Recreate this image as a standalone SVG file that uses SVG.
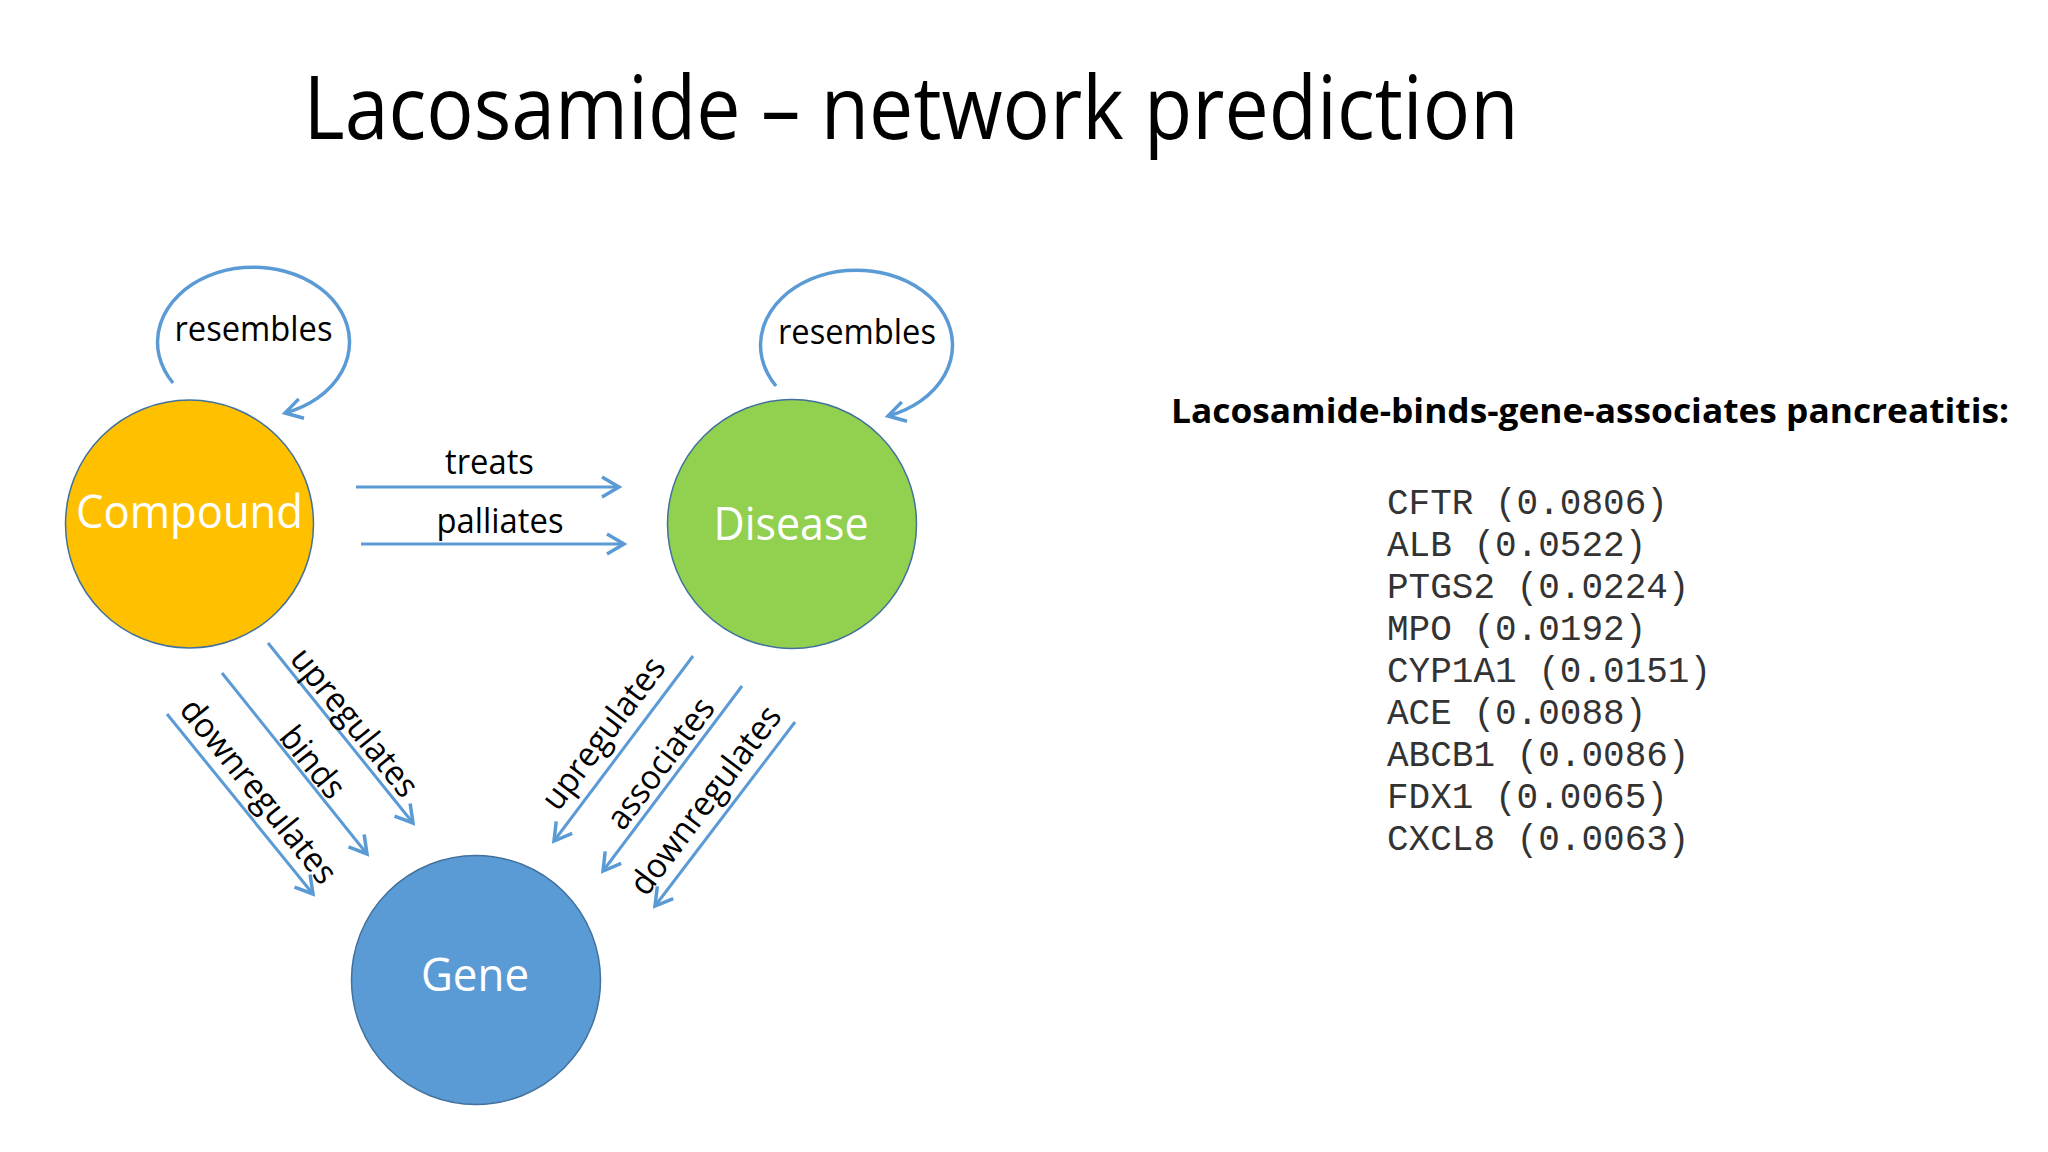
<svg xmlns="http://www.w3.org/2000/svg" width="2048" height="1152" viewBox="0 0 2048 1152">
<style>
.node{stroke:#41719C;stroke-width:1.5}
.nlabel{font-family:"Open Sans","Liberation Sans",sans-serif;font-size:45px;fill:#ffffff;text-anchor:middle}
.elabel{font-family:"Open Sans","Liberation Sans",sans-serif;font-size:34px;fill:#000000;text-anchor:middle}
.edge{fill:none;stroke:#5B9BD5;stroke-width:3;marker-end:url(#arr)}
.loop{fill:none;stroke:#5B9BD5;stroke-width:3.5;marker-end:url(#arr)}
.mono{font-family:"Liberation Mono","Courier New",monospace;font-size:36px;fill:#333333}
</style>
<defs>
<marker id="arr" markerUnits="userSpaceOnUse" markerWidth="40" markerHeight="40" viewBox="-25 -20 40 40" refX="0" refY="0" orient="auto">
<path d="M-17,-10 L0,0 L-17,10" fill="none" stroke="#5B9BD5" stroke-width="3.5"/>
</marker>
</defs>
<rect width="2048" height="1152" fill="#ffffff"/>
<text x="911" y="139" font-family="'Open Sans','Liberation Sans',sans-serif" font-size="88" font-weight="500" text-anchor="middle" textLength="1215" lengthAdjust="spacingAndGlyphs" fill="#000">Lacosamide – network prediction</text>

<g id="connectors">
<path class="loop" d="M173,383 A96,75 0 1,1 285,413"/>
<path class="loop" d="M776,386 A96,75 0 1,1 888,416"/>
<line class="edge" x1="356" y1="487" x2="619" y2="487"/>
<line class="edge" x1="361" y1="544" x2="624" y2="544"/>
<line class="edge" x1="268" y1="643" x2="413" y2="823"/>
<line class="edge" x1="222" y1="673" x2="367" y2="854"/>
<line class="edge" x1="167" y1="714" x2="313" y2="894"/>
<line class="edge" x1="693" y1="656" x2="554" y2="841"/>
<line class="edge" x1="742" y1="686" x2="603" y2="871"/>
<line class="edge" x1="795" y1="722" x2="655" y2="906"/>
<text class="elabel" x="253.5" y="341" textLength="158" lengthAdjust="spacingAndGlyphs">resembles</text>
<text class="elabel" x="857" y="344" textLength="158" lengthAdjust="spacingAndGlyphs">resembles</text>
<text class="elabel" x="489.5" y="474" textLength="89" lengthAdjust="spacingAndGlyphs">treats</text>
<text class="elabel" x="500" y="533" textLength="127" lengthAdjust="spacingAndGlyphs">palliates</text>
<text class="elabel" transform="translate(355,722) rotate(51)" y="12" textLength="181" lengthAdjust="spacingAndGlyphs">upregulates</text>
<text class="elabel" transform="translate(313,762) rotate(51)" y="12" textLength="82" lengthAdjust="spacingAndGlyphs">binds</text>
<text class="elabel" transform="translate(259,791) rotate(51)" y="12" textLength="227" lengthAdjust="spacingAndGlyphs">downregulates</text>
<text class="elabel" transform="translate(603,733) rotate(-53)" y="12" textLength="181" lengthAdjust="spacingAndGlyphs">upregulates</text>
<text class="elabel" transform="translate(660,763) rotate(-53)" y="12" textLength="155" lengthAdjust="spacingAndGlyphs">associates</text>
<text class="elabel" transform="translate(705,800) rotate(-53)" y="12" textLength="227" lengthAdjust="spacingAndGlyphs">downregulates</text>
</g>

<g id="compound">
<circle class="node" cx="189.5" cy="524" r="124" fill="#FFC000"/>
<text class="nlabel" x="189.5" y="528" textLength="227" lengthAdjust="spacingAndGlyphs">Compound</text>
</g>
<g id="disease">
<circle class="node" cx="792" cy="524" r="124.5" fill="#92D050"/>
<text class="nlabel" x="791" y="540" textLength="155" lengthAdjust="spacingAndGlyphs">Disease</text>
</g>
<g id="gene">
<circle class="node" cx="476" cy="980" r="124.5" fill="#5B9BD5"/>
<text class="nlabel" x="475" y="991" textLength="108" lengthAdjust="spacingAndGlyphs">Gene</text>
</g>

<g id="results">
<text x="1171" y="423" font-family="'Open Sans','Liberation Sans',sans-serif" font-weight="bold" font-size="34" textLength="838" lengthAdjust="spacingAndGlyphs" fill="#000">Lacosamide-binds-gene-associates pancreatitis:</text>
<text class="mono" x="1387" y="514">CFTR (0.0806)</text>
<text class="mono" x="1387" y="556">ALB (0.0522)</text>
<text class="mono" x="1387" y="598">PTGS2 (0.0224)</text>
<text class="mono" x="1387" y="640">MPO (0.0192)</text>
<text class="mono" x="1387" y="682">CYP1A1 (0.0151)</text>
<text class="mono" x="1387" y="724">ACE (0.0088)</text>
<text class="mono" x="1387" y="766">ABCB1 (0.0086)</text>
<text class="mono" x="1387" y="808">FDX1 (0.0065)</text>
<text class="mono" x="1387" y="850">CXCL8 (0.0063)</text>
</g>
</svg>
